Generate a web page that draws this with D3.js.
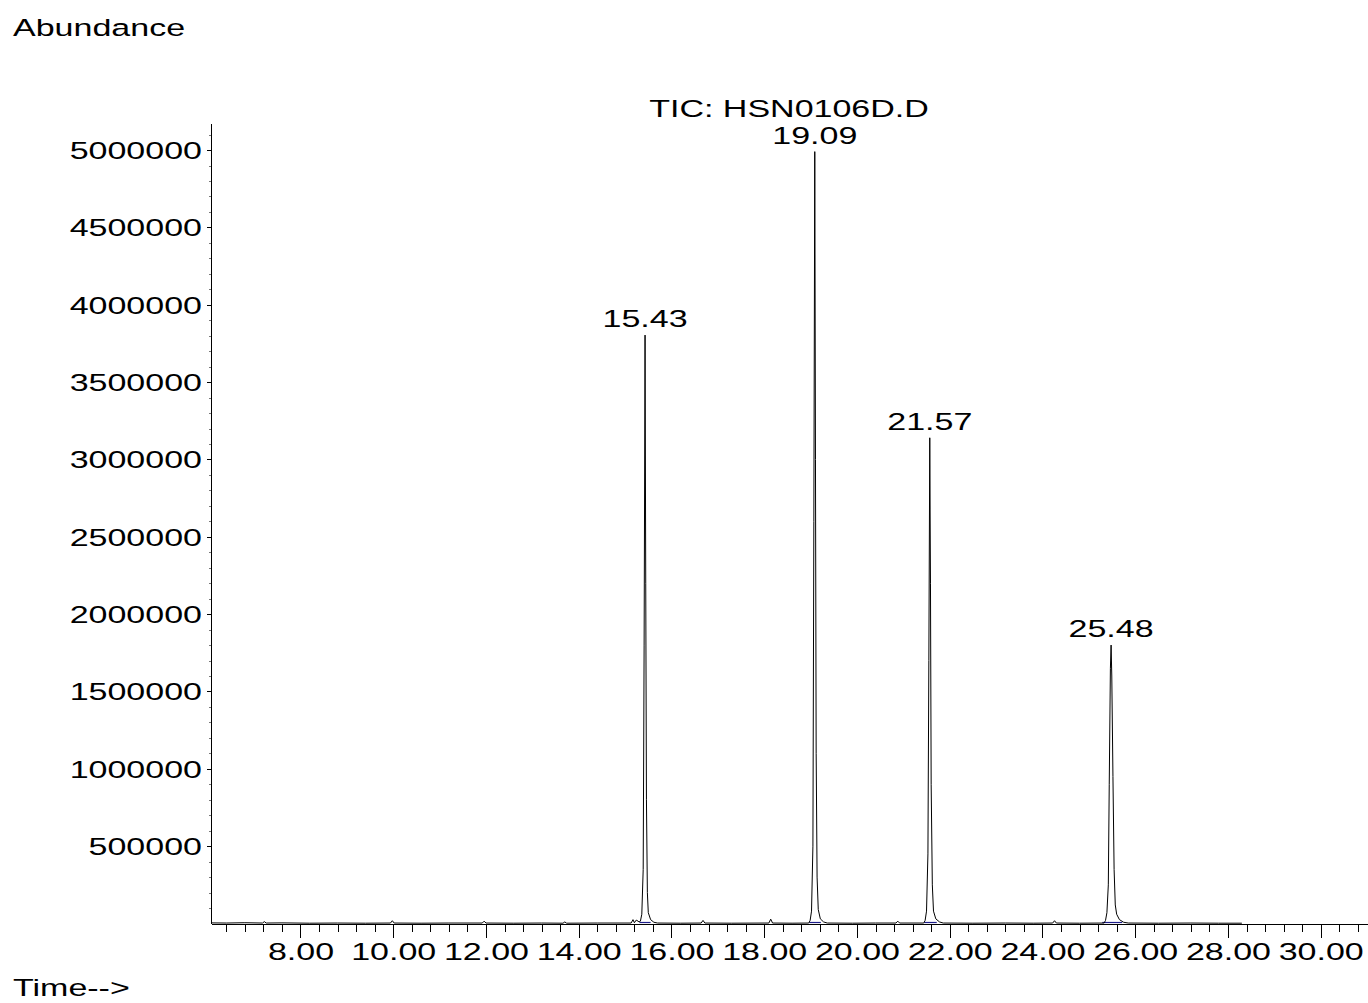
<!DOCTYPE html>
<html lang="en">
<head>
    <meta charset="UTF-8">
    <title>TIC: HSN0106D.D</title>
    <script src="https://d3js.org/d3.v7.min.js"></script>
    <style>
        html, body {
            margin: 0;
            padding: 0;
            background: #ffffff;
            overflow: hidden;
        }
        svg text {
            font-family: "Liberation Sans", Arial, sans-serif;
            font-size: 23.3px;
            fill: #000;
        }
        .axis path, .axis line {
            stroke: #000;
            shape-rendering: crispEdges;
        }
        .minor line {
            stroke: #777;
        }
        .trace {
            fill: none;
            stroke: #000;
            stroke-width: 1;
        }
        .integ {
            stroke: #1c1c8a;
            stroke-width: 1.2;
        }
    </style>
</head>
<body>
<svg width="1368" height="1003"></svg>
<script>
    // tick values
    const timeTicks = [8, 10, 12, 14, 16, 18, 20, 22, 24, 26, 28, 30];
    const abundTicks = [500000, 1000000, 1500000, 2000000, 2500000, 3000000, 3500000, 4000000, 4500000, 5000000];

    // labelled peaks
    const peakTimes = [15.43, 19.09, 21.57, 25.48];
    const peakHeights = [3804000, 4990000, 3140000, 1800000];

    // integration baselines under the peaks
    const integStart = [15.31, 18.97, 21.45, 25.29];
    const integEnd = [15.55, 19.22, 21.72, 25.72];

    // chromatogram trace (min, counts)
    const traceTime = [
        6.07, 6.40, 6.80, 7.18, 7.22, 7.26, 7.60, 8.20, 8.80, 9.40,
        9.94, 9.98, 10.02, 10.60, 11.20, 11.92, 11.96, 12.00, 12.60, 13.20,
        13.66, 13.70, 13.74, 14.40, 15.13, 15.17, 15.20, 15.24, 15.28, 15.30,
        15.33, 15.36, 15.39, 15.41, 15.43, 15.445, 15.46, 15.48, 15.50, 15.55,
        15.62, 15.70, 16.20, 16.64, 16.68, 16.72, 17.30, 18.10, 18.14, 18.18,
        18.60, 18.96, 18.99, 19.02, 19.05, 19.07, 19.09, 19.105, 19.12, 19.14,
        19.165, 19.21, 19.28, 19.36, 19.90, 20.40, 20.84, 20.88, 20.92, 21.44,
        21.47, 21.50, 21.53, 21.55, 21.57, 21.585, 21.60, 21.625, 21.65, 21.70,
        21.78, 21.86, 22.50, 23.20, 23.80, 24.22, 24.26, 24.30, 24.80, 25.33,
        25.36, 25.39, 25.42, 25.44, 25.465, 25.48, 25.495, 25.52, 25.545, 25.57,
        25.60, 25.66, 25.75, 25.85, 26.50, 27.20, 27.80, 28.30
    ];
    const traceAbund = [
        4000, 3000, 5000, 3000, 12000, 3000, 4000, 2000, 3000, 2000,
        3000, 18000, 3000, 2000, 3000, 3000, 15000, 3000, 2000, 3000,
        2000, 10000, 2000, 3000, 3000, 25000, 5000, 22000, 15000, 10000,
        15000, 60000, 350000, 1800000, 3804000, 2200000, 800000, 200000, 70000, 25000,
        8000, 3000, 2000, 3000, 20000, 3000, 2000, 3000, 28000, 3000,
        2000, 3000, 20000, 80000, 500000, 2600000, 4990000, 3000000, 1100000, 300000,
        90000, 30000, 10000, 3000, 2000, 3000, 3000, 15000, 3000, 3000,
        20000, 80000, 450000, 1700000, 3140000, 2200000, 900000, 250000, 80000, 30000,
        10000, 3000, 2000, 3000, 2000, 3000, 18000, 3000, 2000, 3000,
        20000, 70000, 250000, 900000, 1650000, 1800000, 1600000, 950000, 350000, 120000,
        60000, 25000, 8000, 3000, 2000, 3000, 2000, 2000
    ];

    const SX = 1.46; // the text in the reference is stretched sideways

    const svg = d3.select("svg");

    const x = d3.scaleLinear().domain([6.07, 31.02]).range([211, 1368]);
    const y = d3.scaleLinear().domain([0, 5175000]).range([923.5, 123]);

    function label(str, px, py, anchor) {
        svg.append("text")
            .attr("transform", `translate(${px},${py}) scale(${SX},1)`)
            .attr("text-anchor", anchor)
            .text(str);
    }

    // minor ticks first, majors on top
    const yMinor = d3.range(100000, 5100001, 100000).filter(v => v % 500000 !== 0);
    svg.append("g")
        .attr("class", "axis minor")
        .attr("transform", "translate(211,0)")
        .call(d3.axisLeft(y).tickValues(yMinor).tickSize(2).tickSizeOuter(0).tickFormat(""))
        .select(".domain").remove();

    const xMinor = d3.range(6.4, 31, 0.4).filter(v => Math.abs(v / 2 - Math.round(v / 2)) > 0.01);
    svg.append("g")
        .attr("class", "axis")
        .attr("transform", "translate(0,923.5)")
        .call(d3.axisBottom(x).tickValues(xMinor).tickSize(8).tickSizeOuter(0).tickFormat(""))
        .select(".domain").remove();

    const yAxis = svg.append("g")
        .attr("class", "axis")
        .attr("transform", "translate(211,0)")
        .call(d3.axisLeft(y).tickValues(abundTicks).tickSize(4).tickSizeOuter(0).tickFormat(d3.format("d")));
    yAxis.selectAll("text")
        .attr("x", 0)
        .attr("dy", "0.36em")
        .attr("transform", `translate(-9,0) scale(${SX},1)`);

    const xAxis = svg.append("g")
        .attr("class", "axis")
        .attr("transform", "translate(0,923.5)")
        .call(d3.axisBottom(x).tickValues(timeTicks).tickSize(14).tickSizeOuter(0).tickFormat(d => d.toFixed(2)));
    xAxis.selectAll("text")
        .attr("y", 0)
        .attr("dy", 0)
        .attr("transform", `translate(0,36.5) scale(${SX},1)`);

    // integration baselines
    svg.append("g")
        .selectAll("line")
        .data(integStart)
        .enter().append("line")
        .attr("class", "integ")
        .attr("x1", d => x(d))
        .attr("x2", (d, i) => x(integEnd[i]))
        .attr("y1", y(0) - 1)
        .attr("y2", y(0) - 1);

    // the trace
    const line = d3.line()
        .x(d => x(d[0]))
        .y(d => y(d[1]));
    svg.append("path")
        .datum(d3.zip(traceTime, traceAbund))
        .attr("class", "trace")
        .attr("d", line);

    // peak labels
    peakTimes.forEach((t, i) => {
        label(t.toFixed(2), x(t), y(peakHeights[i]) - 8, "middle");
    });

    label("TIC: HSN0106D.D", 789, 117, "middle");
    label("Abundance", 13, 36, "start");
    label("Time-->", 13, 996, "start");
</script>
</body>
</html>
